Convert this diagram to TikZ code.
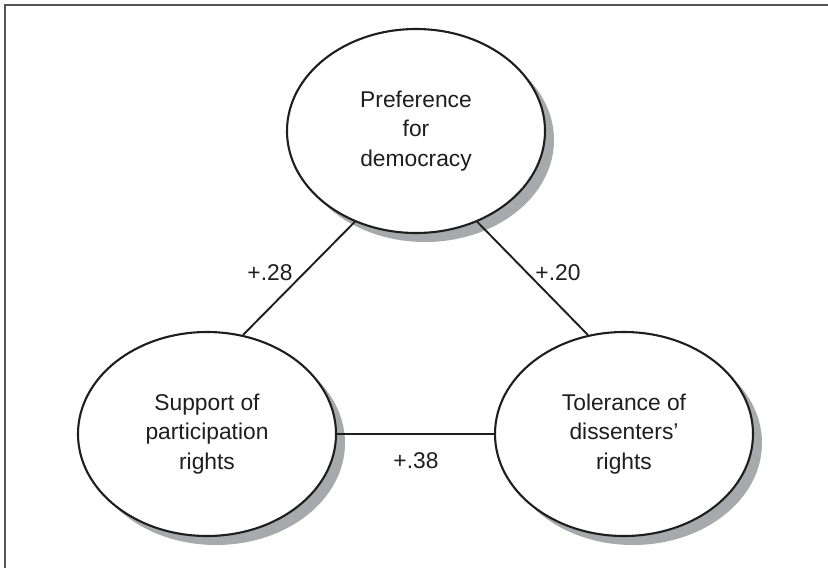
\documentclass[tikz,border=0pt]{standalone}
\usepackage{fontspec}
\setmainfont{Liberation Sans}
\usetikzlibrary{shapes.geometric,shadows}
\definecolor{shadowgray}{RGB}{168,169,173}
\definecolor{framegray}{RGB}{85,85,85}
\definecolor{inkblack}{RGB}{30,30,30}
\tikzset{
  construct/.style={ellipse, draw=inkblack, line width=2.1pt, fill=white,
    minimum width=258pt, minimum height=204pt, inner sep=0pt, align=center,
    font=\fontsize{22.8}{29.5}\selectfont, text=inkblack,
    drop shadow={shadow xshift=9pt, shadow yshift=-9pt, fill=shadowgray, opacity=1}},
  link/.style={draw=inkblack, line width=1.9pt},
  coef/.style={font=\fontsize{22.8}{27}\selectfont, text=inkblack, inner sep=0pt}
}
\begin{document}
\begin{tikzpicture}[x=1pt,y=-1pt]
\useasboundingbox (0,0) rectangle (828,568);
\draw[framegray, line width=2pt] (5,568) -- (5,5) -- (828,5);
\node[construct] (pref) at (416,131) {Preference\\for\\democracy};
\node[construct] (supp) at (207,434) {Support of\\participation\\rights};
\node[construct] (tol) at (624,434) {Tolerance of\\dissenters’\\rights};
\draw[link] (pref.236.5) -- (supp.70.2);
\draw[link] (pref.304.4) -- (tol.110.3);
\draw[link] (supp.east) -- (tol.west);
\node[coef] (c1) at (270,273) {+.28};
\node[coef] (c2) at (558,273) {+.20};
\node[coef] (c3) at (416,461) {+.38};
\end{tikzpicture}
\end{document}
